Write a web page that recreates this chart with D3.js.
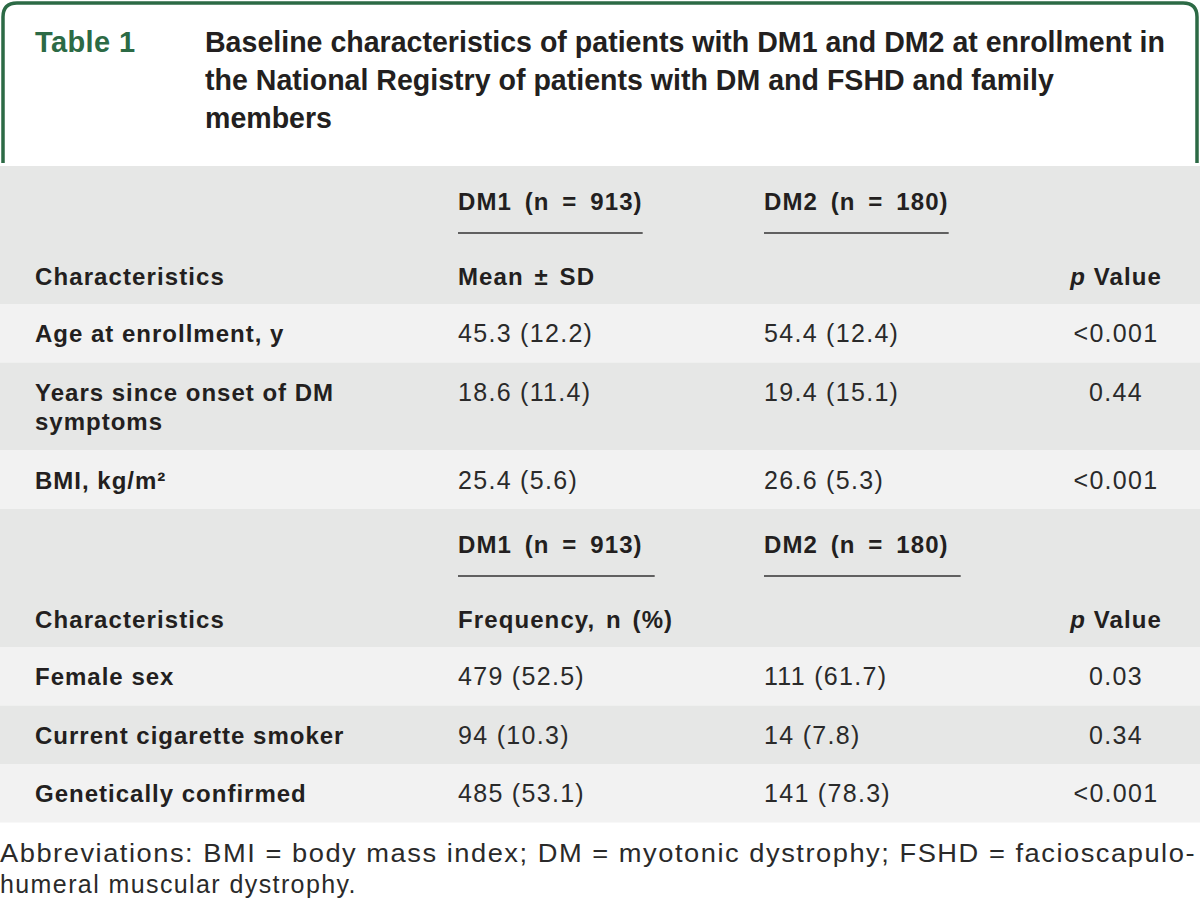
<!DOCTYPE html>
<html>
<head>
<meta charset="utf-8">
<script src="https://cdn.jsdelivr.net/npm/d3@7"></script>
<style>
  html, body { margin: 0; padding: 0; background: #ffffff; }
  svg { display: block; }
</style>
</head>
<body>
<div id="chart"></div>
<script>
// ---------------- DATA ----------------
const tableLabel = "Table 1";
const titleLines = [
  "Baseline characteristics of patients with DM1 and DM2 at enrollment in",
  "the National Registry of patients with DM and FSHD and family",
  "members"
];
const groupHeaders = ["DM1 (n = 913)", "DM2 (n = 180)"];
const characteristicsHeader = "Characteristics";
const pValueHeader = ["p", " Value"];

const meanStatLabel = "Mean ± SD";
const meanLabels = ["Age at enrollment, y", "Years since onset of DM\nsymptoms", "BMI, kg/m²"];
const meanDM1 = ["45.3 (12.2)", "18.6 (11.4)", "25.4 (5.6)"];
const meanDM2 = ["54.4 (12.4)", "19.4 (15.1)", "26.6 (5.3)"];
const meanP = ["<0.001", "0.44", "<0.001"];

const freqStatLabel = "Frequency, n (%)";
const freqLabels = ["Female sex", "Current cigarette smoker", "Genetically confirmed"];
const freqDM1 = ["479 (52.5)", "94 (10.3)", "485 (53.1)"];
const freqDM2 = ["111 (61.7)", "14 (7.8)", "141 (78.3)"];
const freqP = ["0.03", "0.34", "<0.001"];

const footnoteLines = [
  "Abbreviations: BMI = body mass index; DM = myotonic dystrophy; FSHD = facioscapulo-",
  "humeral muscular dystrophy."
];

// ---------------- LAYOUT ----------------
const W = 1200, H = 916;
const GREEN = "#2c6a45";
const DARK = "#e6e7e6";
const LIGHT = "#f2f2f2";
const TXT = "#231f20";
const FONT = "'Liberation Sans', Arial, sans-serif";

const svg = d3.select("#chart").append("svg")
  .attr("width", W).attr("height", H)
  .attr("viewBox", `0 0 ${W} ${H}`);

const colX = d3.scaleOrdinal()
  .domain(["label", "dm1", "dm2", "p"])
  .range([35, 458, 764, 1116]);

// header box
svg.append("path")
  .attr("d", "M3,163 V17 Q3,3 17,3 H1183 Q1197,3 1197,17 V163")
  .attr("fill", "none")
  .attr("stroke", GREEN)
  .attr("stroke-width", 3.5);

svg.append("text")
  .attr("x", 35).attr("y", 52)
  .attr("font-family", FONT).attr("font-weight", "bold")
  .attr("font-size", 29).attr("fill", GREEN)
  .attr("letter-spacing", 0.4)
  .text(tableLabel);

const titleSel = svg.append("g").selectAll("text")
  .data(titleLines).join("text")
  .attr("x", 205)
  .attr("y", (d, i) => 52 + i * 38)
  .attr("font-family", FONT).attr("font-weight", "bold")
  .attr("font-size", 29).attr("fill", TXT)
  .text(d => d);
// fit the title block to the width available in the box (same compression for all lines)
const titleAvail = 960;
const w0 = titleSel.nodes()[0].getComputedTextLength();
const kTitle = titleAvail / w0;
titleSel.each(function () {
  const w = this.getComputedTextLength();
  d3.select(this).attr("textLength", w * kTitle).attr("lengthAdjust", "spacingAndGlyphs");
});

// build row structure
function buildSection(stat, labels, dm1, dm2, p) {
  return {
    stat,
    rows: labels.map((l, i) => ({ lines: l.split("\n"), dm1: dm1[i], dm2: dm2[i], p: p[i] }))
  };
}
const sections = [
  buildSection(meanStatLabel, meanLabels, meanDM1, meanDM2, meanP),
  buildSection(freqStatLabel, freqLabels, freqDM1, freqDM2, freqP)
];

const HEADER_H = 138, ROW_H = 58.5, LINE_H = 29.5;
const tableTop = 166;

const labelStyle = s => s.attr("font-family", FONT).attr("font-weight", "bold")
  .attr("font-size", 24).attr("fill", TXT).attr("letter-spacing", 1);
const valueStyle = s => s.attr("font-family", FONT).attr("font-weight", "normal")
  .attr("font-size", 25).attr("fill", "#2a2a2a").attr("letter-spacing", 1.3);
const headStyle = s => s.attr("font-family", FONT).attr("font-weight", "bold")
  .attr("font-size", 24).attr("fill", TXT).attr("letter-spacing", 1.1);
const colHeadStyle = s => headStyle(s).attr("word-spacing", 5);
const statHeadStyle = s => headStyle(s).attr("word-spacing", 3);

let y = tableTop;
const tbl = svg.append("g");
sections.forEach((sec, si) => {
  // header band
  tbl.append("rect").attr("x", 0).attr("y", y).attr("width", W).attr("height", HEADER_H).attr("fill", DARK);
  const hg = tbl.append("g");
  ["dm1", "dm2"].forEach((k, gi) => {
    const t = hg.append("text").attr("x", colX(k)).attr("y", y + 44).text(groupHeaders[gi]).call(colHeadStyle);
    const w = t.node().getComputedTextLength();
    hg.append("line")
      .attr("x1", colX(k)).attr("x2", colX(k) + w + (si === 1 ? 12 : 0))
      .attr("y1", y + 67).attr("y2", y + 67)
      .attr("stroke", "#333").attr("stroke-width", 1.6);
  });
  hg.append("text").attr("x", colX("label")).attr("y", y + 119).text(characteristicsHeader).call(headStyle);
  hg.append("text").attr("x", colX("dm1")).attr("y", y + 119).text(sec.stat).call(statHeadStyle);
  const pv = hg.append("text").attr("x", colX("p")).attr("y", y + 119).attr("text-anchor", "middle").call(headStyle);
  pv.append("tspan").attr("font-style", "italic").text(pValueHeader[0]);
  pv.append("tspan").text(pValueHeader[1]);
  y += HEADER_H;

  sec.rows.forEach((r, ri) => {
    const h = ROW_H + LINE_H * (r.lines.length - 1);
    tbl.append("rect").attr("x", 0).attr("y", y).attr("width", W).attr("height", h)
      .attr("fill", ri === 1 ? DARK : LIGHT);
    const base = y + 38;
    tbl.append("g").selectAll("text").data(r.lines).join("text")
      .attr("x", colX("label")).attr("y", (d, i) => base + i * LINE_H)
      .text(d => d).call(labelStyle);
    tbl.append("text").attr("x", colX("dm1")).attr("y", base).text(r.dm1).call(valueStyle);
    tbl.append("text").attr("x", colX("dm2")).attr("y", base).text(r.dm2).call(valueStyle);
    tbl.append("text").attr("x", colX("p")).attr("y", base).attr("text-anchor", "middle").text(r.p).call(valueStyle);
    y += h;
  });
});

// footnote (first line justified to the full width, last line natural)
const footSel = svg.append("g").selectAll("text").data(footnoteLines).join("text")
  .attr("x", 0).attr("y", (d, i) => 862 + i * 31)
  .attr("font-family", FONT).attr("font-size", 25).attr("fill", "#2a2a2a")
  .attr("letter-spacing", 1.4)
  .text(d => d);
d3.select(footSel.nodes()[0]).attr("textLength", 1196).attr("lengthAdjust", "spacingAndGlyphs");
</script>
</body>
</html>
